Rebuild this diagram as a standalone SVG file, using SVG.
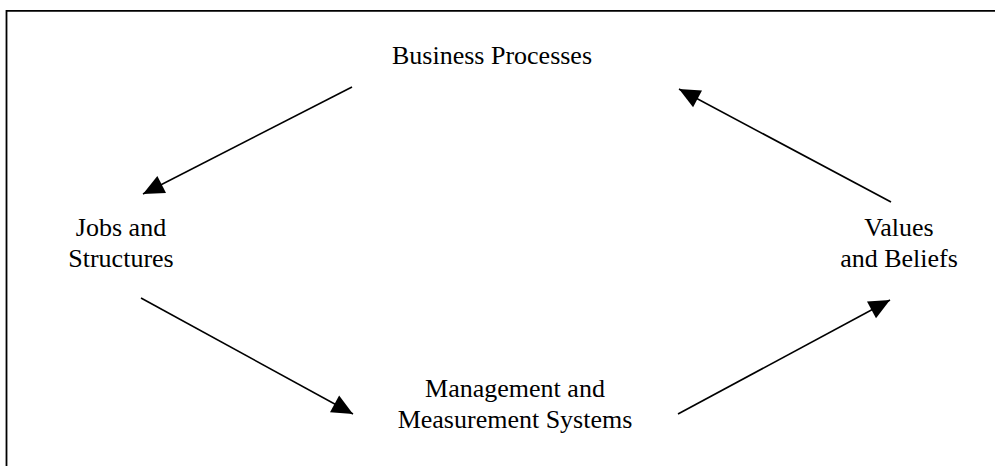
<svg xmlns="http://www.w3.org/2000/svg" width="995" height="466" viewBox="0 0 995 466">
  <style>
    .lbl { font-family: "Liberation Serif", "Times New Roman", serif; font-size: 26px; fill: #000; text-anchor: middle; }
    .conn { stroke: #000; stroke-width: 1.6; fill: none; marker-end: url(#ah); }
    .frame { stroke: #000; stroke-width: 1.8; fill: none; }
  </style>
  <defs>
    <marker id="ah" markerUnits="userSpaceOnUse" markerWidth="22" markerHeight="20" refX="21" refY="9.5" orient="auto" overflow="visible">
      <path d="M0,0 L21,9.5 L0,19 Z" fill="#000"/>
    </marker>
  </defs>
  <rect width="995" height="466" fill="#fff"/>
  <path class="frame" d="M6.5,466 V10.9 H995"/>
  <g id="connectors">
    <line class="conn" x1="352" y1="87" x2="143" y2="194"/>
    <line class="conn" x1="891" y1="202" x2="679" y2="89"/>
    <line class="conn" x1="141" y1="298" x2="353" y2="414"/>
    <line class="conn" x1="678" y1="414" x2="890" y2="300"/>
  </g>
  <g id="business-processes">
    <text class="lbl" x="492" y="64">Business Processes</text>
  </g>
  <g id="jobs-structures">
    <text class="lbl" x="121" y="236">Jobs and</text>
    <text class="lbl" x="121" y="267">Structures</text>
  </g>
  <g id="values-beliefs">
    <text class="lbl" x="899" y="236">Values</text>
    <text class="lbl" x="899" y="267">and Beliefs</text>
  </g>
  <g id="management-systems">
    <text class="lbl" x="515" y="397">Management and</text>
    <text class="lbl" x="515" y="428">Measurement Systems</text>
  </g>
</svg>
